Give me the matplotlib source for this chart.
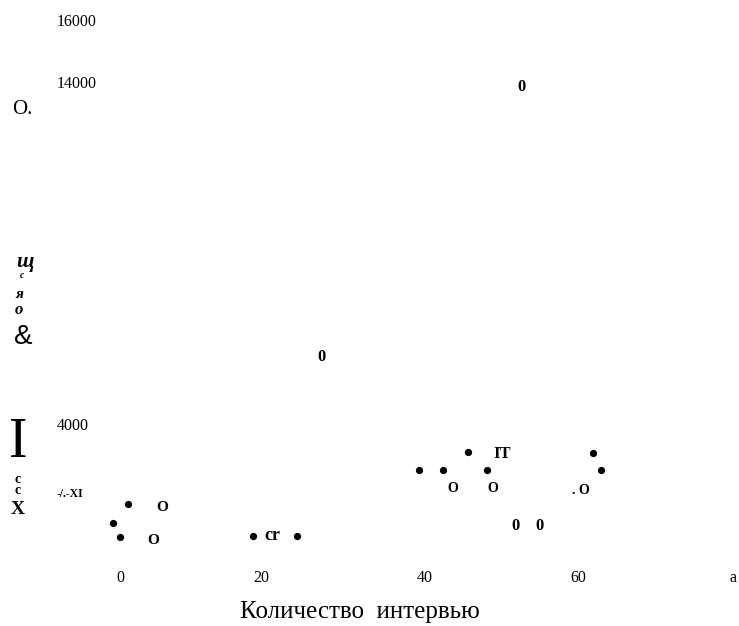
import matplotlib
matplotlib.use("Agg")
import matplotlib.pyplot as plt

# ---- data ----
# small filled dots
dot_x = [-1.05, -0.13, 1.0, 17.4, 23.1, 39.2, 42.3, 45.5, 48.1, 61.9, 63.0]
dot_y = [1114, 690, 1652, 734, 734, 2664, 2664, 3190, 2664, 3161, 2664]

# glyph-like marks (scanned symbols)
glyph_text = ["O", "O", "cr", "0", "0", "IT", "O", "O", ". O", "0", "0"]
glyph_x = [5.5, 4.3, 19.9, 26.4, 52.6, 50.1, 43.5, 48.8, 60.4, 51.8, 54.9]
glyph_y = [1564, 588, 734, 5959, 13854, 3123, 2108, 2108, 2070, 1018, 1018]
glyph_size = [11, 11, 13, 12, 12, 12, 10, 10, 10, 12, 12]

x_tick_pos = [0, 18.4, 39.9, 60, 80.3]
x_tick_labels = ["0", "20", "40", "60", "a"]
y_tick_pos = [2000, 4000, 14000, 15800]
y_tick_labels = ["-/.-XI", "4000", "14000", "16000"]

x_label = "Количество  интервью"

# ---- figure ----
W, H = 739, 626
fig = plt.figure(figsize=(W / 100, H / 100), dpi=100)
left_px, right_px, top_px, bottom_px = 100, 739, 0, 560
ax = fig.add_axes([left_px / W, 1 - bottom_px / H,
                   (right_px - left_px) / W, (bottom_px - top_px) / H])

# data limits chosen so that pixel mapping matches reference
sx = 7.622   # px per x unit
sy = 0.0342  # px per y unit
x0_px, y0_px = 120.7, 424.0  # x=0, y=4000
ax.set_xlim((left_px - x0_px) / sx, (right_px - x0_px) / sx)
ax.set_ylim(4000 + (y0_px - bottom_px) / sy, 4000 + (y0_px - top_px) / sy)

for s in ax.spines.values():
    s.set_visible(False)

ax.plot(dot_x, dot_y, "o", color="black", markersize=4.2, linestyle="none")

for t, x, y, fs in zip(glyph_text, glyph_x, glyph_y, glyph_size):
    ax.text(x, y, t, fontsize=fs, fontweight="bold", family="Liberation Serif",
            ha="center", va="center", color="black")

ax.set_xticks(x_tick_pos)
ax.set_xticklabels(x_tick_labels, family="Liberation Serif", fontsize=11.5)
ax.tick_params(axis="x", length=0, pad=7)

ax.set_yticks(y_tick_pos)
ax.set_yticklabels(y_tick_labels, family="Liberation Serif", fontsize=11.5)
ax.tick_params(axis="y", length=0, pad=31)
for lab in ax.get_yticklabels():
    lab.set_ha("left")
ax.get_yticklabels()[0].set_fontweight("bold")
ax.get_yticklabels()[0].set_fontsize(8.5)

ax.set_xlabel(x_label, family="Liberation Serif", fontsize=18)
ax.xaxis.label.set_va("center")
ax.xaxis.set_label_coords((360 - left_px) / (right_px - left_px),
                          (bottom_px - 612) / (bottom_px - top_px))

# garbled vertical y-axis title fragments (figure pixel coordinates)
def ftext(px, py, s, **kw):
    fig.text(px / W, 1 - py / H, s, ha="center", va="center", color="black", **kw)

ftext(22, 109, "O.", family="Liberation Serif", fontsize=15)
ftext(25, 262, "щ", family="Liberation Serif", fontsize=15, fontweight="bold", style="italic")
ftext(22, 275, "c", family="Liberation Serif", fontsize=7, fontweight="bold", style="italic")
ftext(19, 295, "я", family="Liberation Serif", fontsize=11, fontweight="bold", style="italic")
ftext(19, 310, "о", family="Liberation Serif", fontsize=12, fontweight="bold", style="italic")
ftext(23, 337, "&", family="Liberation Sans", fontsize=20)
ftext(18, 443, "I", family="Liberation Serif", fontsize=40)
ftext(18, 485, "c\nc", family="Liberation Serif", fontsize=10, fontweight="bold",
      linespacing=0.75)
ftext(18, 509, "X", family="Liberation Serif", fontsize=14, fontweight="bold")

fig.savefig("out.png", dpi=100)
